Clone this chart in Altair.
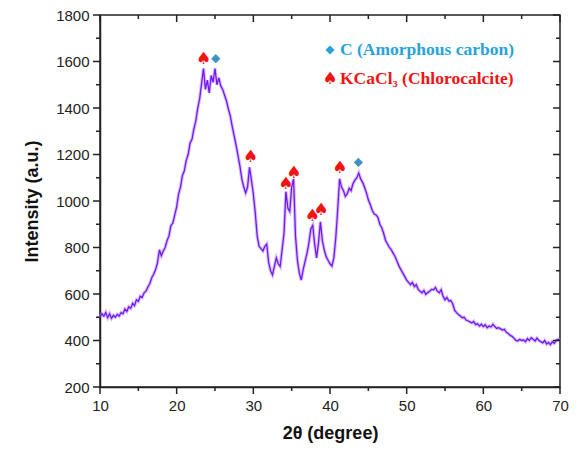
import altair as alt
import pandas as pd

# XRD intensity, 10.00 .. 70.00 deg in 0.25 deg steps
intensity = [
    500, 515, 505, 520,   # 10
    498, 515, 495, 508,   # 11
    500, 512, 505, 520,   # 12
    515, 535, 525, 545,   # 13
    538, 560, 550, 575,   # 14
    568, 590, 585, 605,   # 15
    612, 630, 645, 670,   # 16
    685, 705, 735, 790,   # 17
    765, 785, 800, 830,   # 18
    850, 895, 905, 940,   # 19
    975, 1030, 1060, 1110,  # 20
    1130, 1175, 1200, 1250,  # 21
    1265, 1310, 1345, 1400,  # 22
    1440, 1505, 1570, 1480,  # 23
    1520, 1465, 1540, 1510,  # 24
    1570, 1500, 1530, 1495,  # 25
    1480, 1455, 1430, 1395,  # 26
    1365, 1320, 1280, 1240,  # 27
    1195, 1150, 1095, 1060,  # 28
    1035, 1060, 1145, 1090,  # 29
    1030, 950, 850, 805,    # 30
    795, 785, 805, 815,     # 31
    735, 700, 682, 720,     # 32
    755, 730, 718, 790,     # 33
    860, 1040, 970, 955,    # 34
    1060, 1095, 850, 745,   # 35
    690, 660, 705, 740,     # 36
    775, 820, 880, 895,     # 37
    815, 755, 820, 910,     # 38
    830, 790, 760, 745,     # 39
    730, 720, 755, 840,     # 40
    960, 1095, 1060, 1045,  # 41
    1020, 1030, 1055, 1045,  # 42
    1075, 1090, 1100, 1120,  # 43
    1095, 1080, 1060, 1035,  # 44
    1005, 985, 960, 945,    # 45
    940, 930, 900, 885,     # 46
    860, 830, 815, 800,     # 47
    790, 775, 760, 740,     # 48
    720, 705, 690, 675,     # 49
    660, 650, 640, 650,     # 50
    632, 640, 620, 612,     # 51
    605, 615, 598, 606,     # 52
    612, 620, 618, 628,     # 53
    612, 605, 618, 590,     # 54
    575, 585, 570, 572,     # 55
    558, 530, 520, 512,     # 56
    505, 498, 500, 488,     # 57
    485, 480, 475, 482,     # 58
    468, 472, 462, 470,     # 59
    460, 468, 455, 462,     # 60
    458, 470, 460, 452,     # 61
    455, 450, 445, 448,     # 62
    435, 430, 422, 418,     # 63
    410, 400, 398, 405,     # 64
    400, 402, 395, 408,     # 65
    400, 412, 405, 398,     # 66
    410, 400, 395, 390,     # 67
    400, 385, 392, 382,     # 68
    395, 388, 400, 405,     # 69
    400,                    # 70
]
two_theta = [10 + 0.25 * i for i in range(len(intensity))]

# phase markers
kcacl_x = [23.5, 29.65, 34.25, 35.3, 37.7, 38.85, 41.3]
kcacl_y = [1610, 1190, 1072, 1122, 935, 962, 1141]
carbon_x = [25.1, 43.7]
carbon_y = [1612, 1166]

x_major = [10, 20, 30, 40, 50, 60, 70]
x_minor = [15, 25, 35, 45, 55, 65]
y_major = [200, 400, 600, 800, 1000, 1200, 1400, 1600, 1800]
y_minor = [300, 500, 700, 900, 1100, 1300, 1500, 1700]

W, H = 460, 372
RED = "#f01414"
BLUE = "#2aa2dc"
DIAMOND = "#3a93c4"
AXIS = "#222222"
MAJ, MIN = 7, 4

df = pd.DataFrame({"tt": two_theta, "I": intensity})
df_k = pd.DataFrame({"tt": kcacl_x, "I": kcacl_y})
df_c = pd.DataFrame({"tt": carbon_x, "I": carbon_y})

xscale = alt.Scale(domain=[10, 70], nice=False, zero=False)
yscale = alt.Scale(domain=[200, 1800], nice=False, zero=False)

common = dict(grid=False, ticks=False, tickSize=0,
              domainColor=AXIS, domainWidth=1.5,
              labelFont="Liberation Sans", labelFontSize=15, labelColor="#222222",
              titleFont="Liberation Sans", titleFontSize=18, titleFontWeight="bold",
              titleColor="#111111")

x_axis = alt.Axis(values=x_major, format="d", labelFlush=False,
                  title="2θ (degree)", titlePadding=11, labelPadding=11, **common)
y_axis = alt.Axis(values=y_major, format="d",
                  title="Intensity (a.u.)", titlePadding=14, labelPadding=11, **common)

X = alt.X("tt:Q", scale=xscale, axis=x_axis)
Y = alt.Y("I:Q", scale=yscale, axis=y_axis)

under = alt.Chart(df).mark_line(color="#b28dff", strokeWidth=3.4, opacity=0.55).encode(x=X, y=Y)
line = alt.Chart(df).mark_line(color="#7417ee", strokeWidth=1.3).encode(x=X, y=Y)

spades = alt.Chart(df_k).mark_text(text="♠", font="DejaVu Sans", fontSize=17, color=RED,
                                   baseline="middle", align="center").encode(x=X, y=Y)
diamonds = alt.Chart(df_c).mark_point(shape="diamond", filled=True, size=85, opacity=1,
                                      color=DIAMOND).encode(x=X, y=Y)

leg_df = pd.DataFrame({"k": [0]})
leg_d = alt.Chart(leg_df).mark_point(shape="diamond", filled=True, size=85, opacity=1,
                                     color=BLUE).encode(x=alt.value(230), y=alt.value(35))
leg_s = alt.Chart(leg_df).mark_text(text="♠", font="DejaVu Sans", fontSize=17, color=RED,
                                    baseline="middle", align="center").encode(
    x=alt.value(230), y=alt.value(64))
leg_t1 = alt.Chart(leg_df).mark_text(text="C (Amorphous carbon)", font="Liberation Serif",
                                     fontWeight="bold", fontSize=17.5, color=BLUE,
                                     align="left", baseline="middle").encode(
    x=alt.value(240), y=alt.value(35))
leg_t2 = alt.Chart(leg_df).mark_text(text="KCaCl₃ (Chlorocalcite)", font="Liberation Serif",
                                     fontWeight="bold", fontSize=17.5, color=RED,
                                     align="left", baseline="middle").encode(
    x=alt.value(240), y=alt.value(64))

# tick marks: positioned by the axis scales, outward on bottom/left, inward on top/right
xt_maj = pd.DataFrame({"tt": x_major})
xt_min = pd.DataFrame({"tt": x_minor})
yt_maj = pd.DataFrame({"I": y_major})
yt_min = pd.DataFrame({"I": y_minor})


def xticks(data, y0, y1):
    return alt.Chart(data).mark_rule(color=AXIS, strokeWidth=1.5).encode(
        x=X, y=alt.value(y0), y2=alt.value(y1))


def yticks(data, x0, x1):
    return alt.Chart(data).mark_rule(color=AXIS, strokeWidth=1.5).encode(
        y=Y, x=alt.value(x0), x2=alt.value(x1))


tick_layers = [
    xticks(xt_maj, H, H + MAJ), xticks(xt_min, H, H + MIN),
    xticks(xt_maj, 0, MAJ), xticks(xt_min, 0, MIN),
    yticks(yt_maj, 0, -MAJ), yticks(yt_min, 0, -MIN),
    yticks(yt_maj, W, W - MAJ), yticks(yt_min, W, W - MIN),
]

chart = alt.layer(under, line, spades, diamonds, leg_d, leg_s, leg_t1, leg_t2,
                  *tick_layers).properties(
    width=W, height=H,
    background="white",
    autosize=alt.AutoSizeParams(type="none"),
    padding={"left": 100, "top": 15, "right": 20, "bottom": 63},
).configure_view(stroke=AXIS, strokeWidth=1.5)

chart.save("out.html", embed_options={"renderer": "svg", "actions": False})
